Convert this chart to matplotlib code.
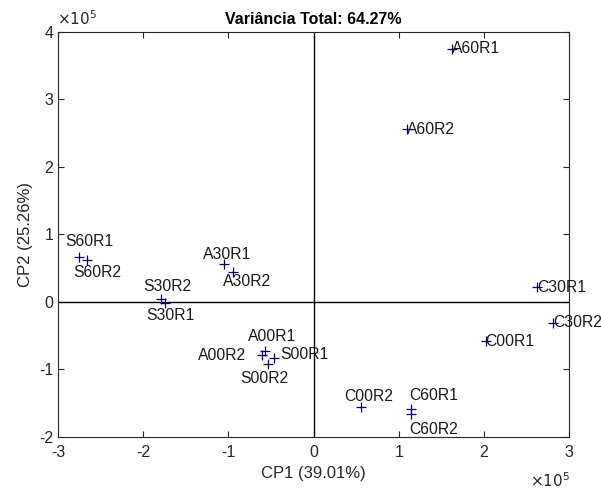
import matplotlib
matplotlib.use('Agg')
import matplotlib.pyplot as plt
from matplotlib.ticker import FuncFormatter

plt.rcParams['font.family'] = ['Liberation Sans', 'DejaVu Sans']
plt.rcParams['axes.unicode_minus'] = False

# PCA scores (CP1, CP2)
labels = ['A60R1', 'A60R2', 'S60R1', 'S60R2', 'A30R1', 'A30R2', 'S30R2', 'S30R1',
          'A00R1', 'A00R2', 'S00R1', 'S00R2', 'C30R1', 'C30R2', 'C00R1', 'C00R2',
          'C60R1', 'C60R2']
cp1 = [1.63e5, 1.10e5, -2.75e5, -2.66e5, -1.05e5, -0.95e5, -1.79e5, -1.74e5,
       -0.57e5, -0.61e5, -0.47e5, -0.54e5, 2.62e5, 2.81e5, 2.02e5, 0.56e5,
       1.14e5, 1.14e5]
cp2 = [3.75e5, 2.56e5, 0.67e5, 0.62e5, 0.56e5, 0.44e5, 0.04e5, -0.01e5,
       -0.73e5, -0.79e5, -0.83e5, -0.92e5, 0.22e5, -0.31e5, -0.58e5, -1.56e5,
       -1.59e5, -1.66e5]

# label placement (offset in pixels, alignment)
offsets = {
    'A60R1': (0, 0, 'left'), 'A60R2': (0, 0, 'left'),
    'S60R1': (10, 15, 'center'), 'S60R2': (10, -12, 'center'),
    'A30R1': (3, 10, 'center'), 'A30R2': (14, -9, 'center'),
    'S30R2': (6, 13, 'center'), 'S30R1': (5, -13, 'center'),
    'A00R1': (7, 15, 'center'), 'A00R2': (-16, 0, 'right'),
    'S00R1': (7, 3, 'left'), 'S00R2': (-3, -14, 'center'),
    'C30R1': (0, 0, 'left'), 'C30R2': (0, 0, 'left'), 'C00R1': (0, 0, 'left'),
    'C00R2': (7, 11, 'center'), 'C60R1': (23, 14, 'center'),
    'C60R2': (23, -16, 'center'),
}

fig = plt.figure(figsize=(6.01, 4.92), dpi=100)
ax = fig.add_axes([0.0965, 0.112, 0.8505, 0.823])

ax.axhline(0, color='black', lw=1)
ax.axvline(0, color='black', lw=1)
ax.plot(cp1, cp2, '+', color='#00007f', ms=7, mew=0.9)

for lab, x, y in zip(labels, cp1, cp2):
    dx, dy, ha = offsets[lab]
    ax.annotate(lab, (x, y), xytext=(dx, dy), textcoords='offset pixels',
                ha=ha, va='center', fontsize=11.3, color='#1a1a1a')

ax.set_xlim(-3e5, 3e5)
ax.set_ylim(-2e5, 4e5)
ax.set_xticks([i * 1e5 for i in range(-3, 4)])
ax.set_yticks([i * 1e5 for i in range(-2, 5)])
fmt = FuncFormatter(lambda v, p: '%d' % round(v / 1e5))
ax.xaxis.set_major_formatter(fmt)
ax.yaxis.set_major_formatter(fmt)
ax.tick_params(direction='in', top=True, right=True, labelsize=11.5,
               colors='#262626', length=4)
ax.tick_params(axis='x', pad=6)
for s in ax.spines.values():
    s.set_color('#262626')
    s.set_linewidth(0.8)

# MATLAB-style exponent labels
fig.text(57 / 601, 1 - 25 / 492, r'$\times10^5$', fontsize=11, color='#262626',
         ha='left', va='baseline')
fig.text(570 / 601, 1 - 487 / 492, r'$\times10^5$', fontsize=11, color='#262626',
         ha='right', va='baseline')

ax.set_xlabel('CP1 (39.01%)', fontsize=12, color='#262626', labelpad=4)
ax.set_ylabel('CP2 (25.26%)', fontsize=12, color='#262626')
ax.set_title('Variância Total: 64.27%', fontsize=11.5, fontweight='bold', pad=6)

fig.savefig('out.png', dpi=100)
